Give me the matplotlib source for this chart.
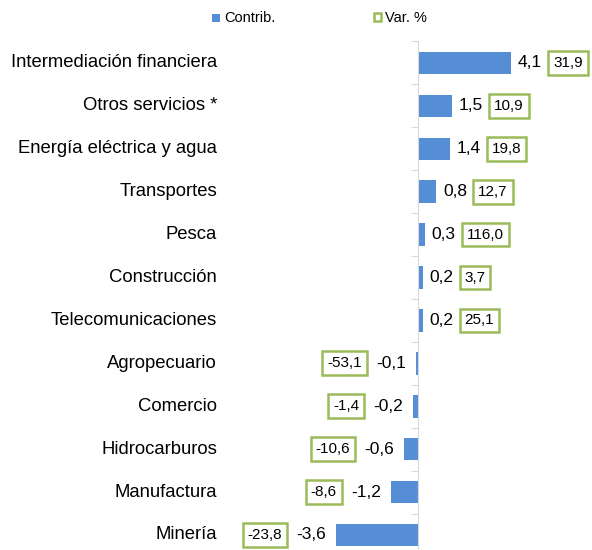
import matplotlib.pyplot as plt
from matplotlib.patches import Rectangle
from matplotlib.transforms import offset_copy

plt.rcParams['font.family'] = ['Liberation Sans', 'DejaVu Sans']

categories = ['Intermediación financiera', 'Otros servicios *', 'Energía eléctrica y agua',
              'Transportes', 'Pesca', 'Construcción', 'Telecomunicaciones', 'Agropecuario',
              'Comercio', 'Hidrocarburos', 'Manufactura', 'Minería']
contrib = [4.1, 1.5, 1.4, 0.8, 0.3, 0.2, 0.2, -0.1, -0.2, -0.6, -1.2, -3.6]
var_pct = [31.9, 10.9, 19.8, 12.7, 116.0, 3.7, 25.1, -53.1, -1.4, -10.6, -8.6, -23.8]

BLUE = '#558ED5'
GREEN = '#9BBB59'
W, H = 592, 550
x0_px = 418      # pixel column of the zero line
scale = 22.7     # pixels per unit
row_px = 42.9
top_px = 41.5

def fmt(v):
    return f'{v:.1f}'.replace('.', ',')

fig = plt.figure(figsize=(W / 100, H / 100), dpi=100)
ax = fig.add_axes([0, 0, 1, (H - top_px) / H])
y = list(range(len(categories)))

ax.barh(y, contrib, height=0.525, color=BLUE)

for s in ['top', 'right', 'bottom']:
    ax.spines[s].set_visible(False)
ax.spines['left'].set_position(('data', 0))
ax.spines['left'].set_color('#D9D9D9')
ax.set_xticks([])
ax.set_yticks([i - 0.5 for i in range(len(categories) + 1)])
ax.set_yticklabels([])
ax.tick_params(axis='y', length=5, color='#D9D9D9', direction='out')

# limits after ticks, so set_yticks does not widen them
ax.set_xlim(-x0_px / scale, (W - x0_px) / scale)
ax.set_ylim(len(categories) - 1 + (H - 535) / row_px, -0.5)

label_x = (217 - x0_px) / scale
for yi, cat, c, v in zip(y, categories, contrib, var_pct):
    ax.text(label_x, yi, cat, ha='right', va='center', fontsize=13.3, color='black')
    box = dict(boxstyle='square,pad=0.32', fc='white', ec=GREEN, lw=1.8)
    if c >= 0:
        t1 = offset_copy(ax.transData, fig, x=7, y=0, units='dots')
        ax.text(c, yi, fmt(c), transform=t1, ha='left', va='center', fontsize=12.5)
        t2 = offset_copy(ax.transData, fig, x=42, y=0, units='dots')
        ax.text(c, yi, fmt(v), transform=t2, ha='left', va='center', fontsize=11, bbox=box)
    else:
        t1 = offset_copy(ax.transData, fig, x=-10, y=0, units='dots')
        ax.text(c, yi, fmt(c), transform=t1, ha='right', va='center', fontsize=12.5)
        t2 = offset_copy(ax.transData, fig, x=-54, y=0, units='dots')
        ax.text(c, yi, fmt(v), transform=t2, ha='right', va='center', fontsize=11, bbox=box)

# legend
fig.add_artist(Rectangle((212 / W, 1 - 21.5 / H), 8 / W, 8 / H, transform=fig.transFigure,
                         fc=BLUE, ec='none'))
fig.text(224 / W, 1 - 17.5 / H, 'Contrib.', fontsize=10.5, va='center')
fig.add_artist(Rectangle((373.5 / W, 1 - 21 / H), 7.5 / W, 7.5 / H, transform=fig.transFigure,
                         fc='white', ec=GREEN, lw=1.8))
fig.text(385 / W, 1 - 17.5 / H, 'Var. %', fontsize=10.5, va='center')

fig.savefig('out.png', dpi=100)
